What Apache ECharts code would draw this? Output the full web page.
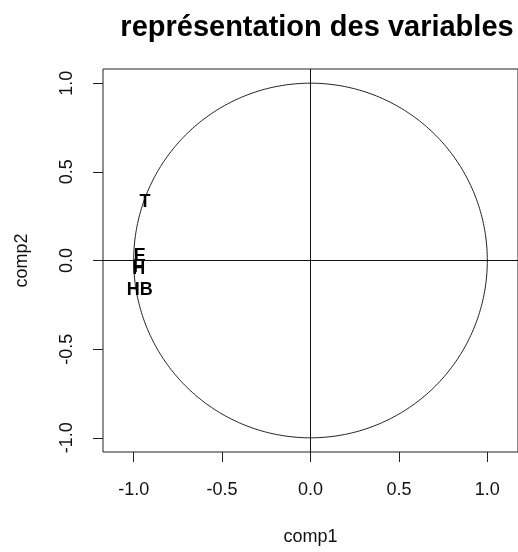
<!DOCTYPE html>
<html>
<head>
<meta charset="utf-8">
<script src="https://cdn.jsdelivr.net/npm/echarts@6/dist/echarts.min.js"></script>
<style>
  html, body { margin: 0; padding: 0; background: #fff; }
  #chart { width: 518px; height: 552px; }
</style>
</head>
<body>
<div id="chart"></div>
<script>
// Variable coordinates on the first two components (correlation circle)
const varNames = ['T', 'E', 'F', 'H', 'HB'];
const comp1 = [-0.936, -0.966, -0.973, -0.972, -0.966];
const comp2 = [0.332, 0.028, -0.036, -0.046, -0.166];

// Tick positions on both axes
const tickValues = [-1.0, -0.5, 0.0, 0.5, 1.0];
const tickLabels = ['-1.0', '-0.5', '0.0', '0.5', '1.0'];

const font = 'Liberation Sans, Arial, sans-serif';
const ink = '#111';

const chart = echarts.init(document.getElementById('chart'), null, { renderer: 'canvas' });

const points = varNames.map((n, i) => ({ name: n, value: [comp1[i], comp2[i]] }));

function tickFormatter(v) {
  const idx = tickValues.findIndex(t => Math.abs(t - v) < 1e-9);
  return idx >= 0 ? tickLabels[idx] : '';
}

chart.setOption({
  animation: false,
  backgroundColor: '#fff',
  title: {
    text: 'représentation des variables',
    left: 312,
    top: 8,
    textAlign: 'center',
    textStyle: { fontFamily: font, fontWeight: 'bold', fontSize: 29, color: '#000' }
  },
  grid: {
    left: 103, top: 69, width: 419, height: 383,
    show: true, borderColor: '#222', borderWidth: 1, backgroundColor: 'transparent'
  },
  xAxis: {
    type: 'value', min: -1.1735, max: 1.1735,
    name: 'comp1', nameLocation: 'middle', nameGap: 76,
    nameTextStyle: { fontFamily: font, fontSize: 18, color: ink },
    axisLine: { show: false, onZero: false },
    splitLine: { show: false },
    axisTick: { show: true, length: 10, inside: false, customValues: tickValues,
                lineStyle: { color: '#222', width: 1 } },
    axisLabel: { customValues: tickValues, formatter: tickFormatter, margin: 29,
                 fontFamily: font, fontSize: 18, color: ink }
  },
  yAxis: {
    type: 'value', min: -1.08, max: 1.08,
    name: 'comp2', nameLocation: 'middle', nameGap: 72, nameRotate: 90,
    nameTextStyle: { fontFamily: font, fontSize: 18, color: ink },
    axisLine: { show: false, onZero: false },
    splitLine: { show: false },
    axisTick: { show: true, length: 10, inside: false, customValues: tickValues,
                lineStyle: { color: '#222', width: 1 } },
    axisLabel: { customValues: tickValues, formatter: tickFormatter, margin: 27, rotate: 90,
                 fontFamily: font, fontSize: 18, color: ink }
  },
  series: [
    {
      // unit circle
      type: 'custom',
      silent: true,
      data: [[0, 0]],
      renderItem: function (params, api) {
        const pts = [];
        for (let k = 0; k <= 360; k++) {
          const a = k * Math.PI / 180;
          pts.push(api.coord([Math.cos(a), Math.sin(a)]));
        }
        return {
          type: 'polyline',
          shape: { points: pts },
          style: { stroke: '#222', fill: null, lineWidth: 1 }
        };
      },
      z: 2
    },
    {
      type: 'scatter',
      data: points,
      symbolSize: 1,
      itemStyle: { color: 'rgba(0,0,0,0)' },
      label: {
        show: true, position: 'inside', formatter: '{b}',
        fontFamily: font, fontWeight: 'bold', fontSize: 18, color: '#000',
        opacity: 1, textBorderWidth: 0
      },
      labelLayout: { hideOverlap: false },
      markLine: {
        silent: true,
        symbol: ['none', 'none'],
        label: { show: false },
        lineStyle: { color: '#111', width: 1, type: 'solid' },
        data: [{ xAxis: 0 }, { yAxis: 0 }]
      },
      z: 3
    }
  ]
});
</script>
</body>
</html>
